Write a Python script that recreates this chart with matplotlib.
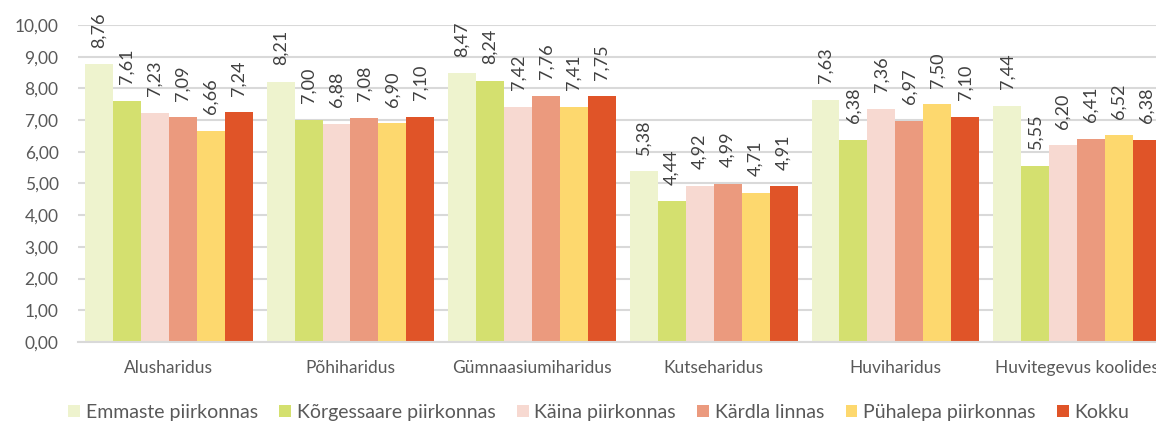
import numpy as np
import matplotlib.pyplot as plt

plt.rcParams['font.family'] = ['Lato', 'DejaVu Sans']

kategooriad = ["Alusharidus", "Põhiharidus", "Gümnaasiumiharidus", "Kutseharidus",
               "Huviharidus", "Huvitegevus koolides"]
piirkonnad = ["Emmaste piirkonnas", "Kõrgessaare piirkonnas", "Käina piirkonnas",
              "Kärdla linnas", "Pühalepa piirkonnas", "Kokku"]

emmaste = [8.76, 8.21, 8.47, 5.38, 7.63, 7.44]
korgessaare = [7.61, 7.00, 8.24, 4.44, 6.38, 5.55]
kaina = [7.23, 6.88, 7.42, 4.92, 7.36, 6.20]
kardla = [7.09, 7.08, 7.76, 4.99, 6.97, 6.41]
puhalepa = [6.66, 6.90, 7.41, 4.71, 7.50, 6.52]
kokku = [7.24, 7.10, 7.75, 4.91, 7.10, 6.38]

seeriad = [emmaste, korgessaare, kaina, kardla, puhalepa, kokku]
varvid = ['#EEF3CE', '#D4E06F', '#F7D9D1', '#EB9A7E', '#FDD86E', '#E05428']

fig = plt.figure(figsize=(11.56, 4.23), dpi=100)
ax = fig.add_axes([0.0675, 0.1915, 0.9428, 0.7494])

x = np.arange(len(kategooriad))
w = 0.154
for i, (s, c, nimi) in enumerate(zip(seeriad, varvid, piirkonnad)):
    pos = x + (i - 2.5) * w
    ax.bar(pos, s, width=w, color=c, label=nimi, zorder=2)
    for xp, v in zip(pos, s):
        ax.annotate(f"{v:.2f}".replace('.', ','), (xp, v), xytext=(0, 12),
                    textcoords='offset points', rotation=90, ha='center', va='bottom',
                    fontsize=13, color='#404040')

ax.set_xlim(-0.5, 5.5)
ax.set_ylim(0, 10)
ax.set_yticks(np.arange(0, 11, 1))
ax.set_yticklabels([f"{v:.2f}".replace('.', ',') for v in np.arange(0, 11, 1)])
ax.set_xticks(x)
ax.set_xticklabels(kategooriad)
ax.tick_params(axis='both', length=0, colors='#595959')
ax.tick_params(axis='x', pad=13, labelsize=12.5)
ax.tick_params(axis='y', pad=14, labelsize=12.5)
ax.yaxis.grid(True, color='#D9D9D9', linewidth=1.5, zorder=0)
ax.set_axisbelow(True)
for sp in ['top', 'right', 'left']:
    ax.spines[sp].set_visible(False)
ax.spines['bottom'].set_color('#D9D9D9')
ax.spines['bottom'].set_linewidth(1.5)

fig.legend(loc='center', bbox_to_anchor=(0.518, 0.025), ncol=6, frameon=False,
           fontsize=14, handlelength=0.6, handleheight=0.6, handletextpad=0.3,
           columnspacing=1.1, labelcolor='#595959')

fig.savefig('out.png', dpi=100)
